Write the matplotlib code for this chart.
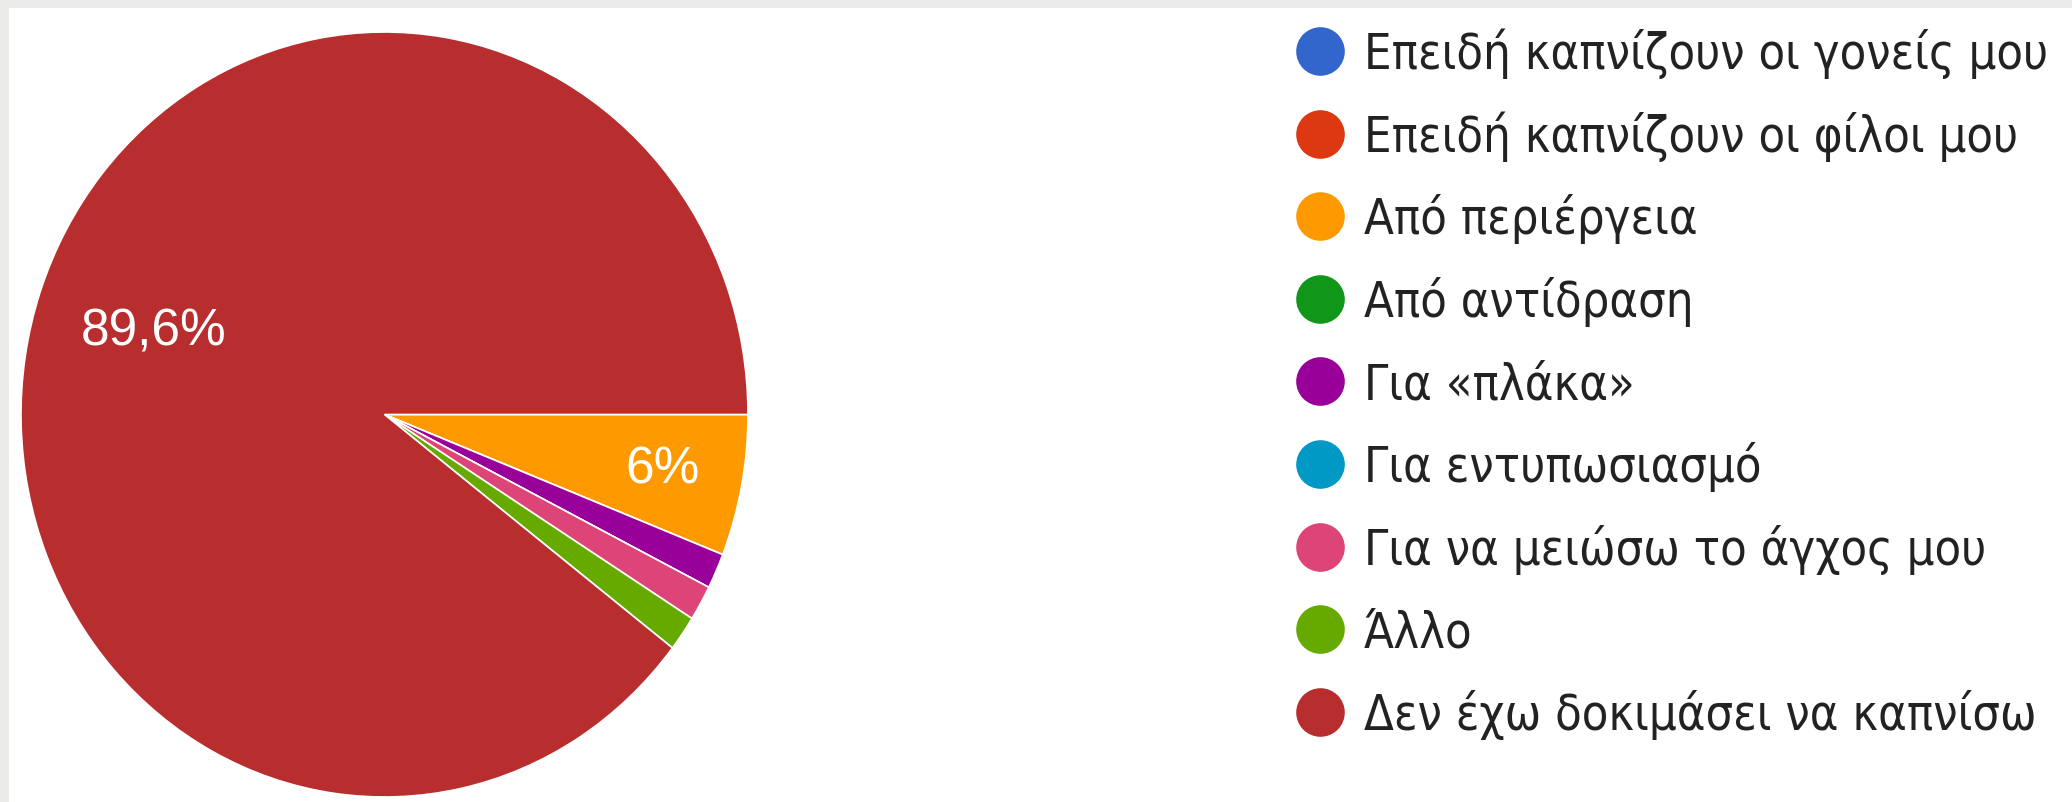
import matplotlib.pyplot as plt
import numpy as np
from matplotlib import font_manager as fm
from matplotlib.patches import Rectangle

# survey answers (counts), legend order
labels = ['Επειδή καπνίζουν οι γονείς μου', 'Επειδή καπνίζουν οι φίλοι μου',
          'Από περιέργεια', 'Από αντίδραση', 'Για «πλάκα»', 'Για εντυπωσιασμό',
          'Για να μειώσω το άγχος μου', 'Άλλο', 'Δεν έχω δοκιμάσει να καπνίσω']
counts = [0, 0, 8, 0, 2, 0, 2, 2, 120]
colors = ['#3366cc', '#dc3912', '#ff9900', '#109618', '#990099',
          '#0099c6', '#dd4477', '#66aa00', '#b82e2e']

W, H = 2072, 802
fig = plt.figure(figsize=(W / 100, H / 100), dpi=100, facecolor='#ebebe9')
# white card inside the grey frame (top and left strips stay grey)
fig.add_artist(Rectangle((9 / W, 0), 1, 794 / H, transform=fig.transFigure,
                         facecolor='white', edgecolor='none', zorder=-5))

font = ['Liberation Sans', 'DejaVu Sans']

# the legend text in the reference is narrow; use a condensed face if present
cond = [f for f in fm.fontManager.ttflist
        if 'condensed' in f.fname.lower() or 'narrow' in f.fname.lower()]
cond = [f for f in cond if 'bold' not in f.fname.lower()
        and 'oblique' not in f.fname.lower() and 'italic' not in f.fname.lower()]
cond.sort(key=lambda f: ('liberation' not in f.fname.lower(),
                         'dejavusans' not in f.fname.lower().replace('-', ''),
                         f.fname))
if cond:
    leg_font = dict(fontproperties=fm.FontProperties(fname=cond[0].fname, size=35))
else:
    leg_font = dict(family=font, fontsize=32)

# pie (image is slightly stretched vertically, so axes aspect stays auto)
ax = fig.add_axes([21 / W, 5 / H, 727 / W, 765 / H])
wedges, _ = ax.pie(counts, colors=colors, startangle=0, counterclock=False,
                   radius=1, wedgeprops=dict(edgecolor='white', linewidth=1.2))
ax.set_aspect('auto')
ax.set_xlim(-1, 1)
ax.set_ylim(-1, 1)
ax.axis('off')

total = sum(counts)
for w, c in zip(wedges, counts):
    share = c / total * 100
    if share < 5:
        continue
    mid = np.deg2rad((w.theta1 + w.theta2) / 2)
    r = 0.67 if share > 50 else 0.78
    txt = f'{share:.1f}'.rstrip('0').rstrip('.').replace('.', ',') + '%'
    ax.text(r * np.cos(mid), r * np.sin(mid), txt, color='white',
            fontsize=37, family=font, ha='center', va='center')

# legend, drawn in pixel coordinates
lg = fig.add_axes([0, 0, 1, 1])
lg.patch.set_alpha(0)
lg.set_xlim(0, W)
lg.set_ylim(H, 0)
lg.axis('off')
for i, (lab, col) in enumerate(zip(labels, colors)):
    y = 51 + i * 82.6
    lg.plot(1320, y, 'o', color=col, markersize=35, markeredgewidth=0)
    lg.text(1364, y + 18, lab, color='#222222', ha='left', va='baseline',
            **leg_font)

fig.savefig('out.png', dpi=100, facecolor=fig.get_facecolor())
